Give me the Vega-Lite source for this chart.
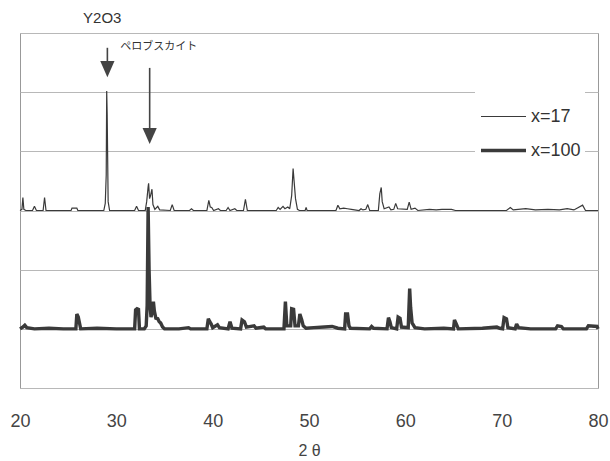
{
  "$schema": "https://vega.github.io/schema/vega-lite/v6.json",
  "autosize": "none",
  "width": 578,
  "height": 355,
  "padding": {"left": 20, "top": 33, "right": 12, "bottom": 73},
  "background": "white",
  "config": {
    "view": {"stroke": "#999", "strokeWidth": 1},
    "font": "Liberation Sans"
  },
  "datasets": {
    "xrd": [
      {"s": "x=17", "t": 20.0, "i": 3.00}, {"s": "x=17", "t": 20.2, "i": 3.02}, {"s": "x=17", "t": 20.3, "i": 3.22}, {"s": "x=17", "t": 20.4, "i": 3.02},
      {"s": "x=17", "t": 20.6, "i": 3.00}, {"s": "x=17", "t": 21.3, "i": 3.00}, {"s": "x=17", "t": 21.5, "i": 3.07}, {"s": "x=17", "t": 21.7, "i": 3.00},
      {"s": "x=17", "t": 22.4, "i": 3.00}, {"s": "x=17", "t": 22.55, "i": 3.22}, {"s": "x=17", "t": 22.7, "i": 3.00}, {"s": "x=17", "t": 25.3, "i": 3.00},
      {"s": "x=17", "t": 25.4, "i": 3.04}, {"s": "x=17", "t": 25.9, "i": 3.04}, {"s": "x=17", "t": 26.0, "i": 3.00}, {"s": "x=17", "t": 28.7, "i": 3.00},
      {"s": "x=17", "t": 28.85, "i": 3.12}, {"s": "x=17", "t": 28.95, "i": 3.60}, {"s": "x=17", "t": 29.0, "i": 5.02}, {"s": "x=17", "t": 29.05, "i": 4.62},
      {"s": "x=17", "t": 29.15, "i": 3.15}, {"s": "x=17", "t": 29.3, "i": 3.00}, {"s": "x=17", "t": 31.9, "i": 3.00}, {"s": "x=17", "t": 32.1, "i": 3.07},
      {"s": "x=17", "t": 32.3, "i": 3.00}, {"s": "x=17", "t": 33.0, "i": 3.00}, {"s": "x=17", "t": 33.15, "i": 3.15}, {"s": "x=17", "t": 33.3, "i": 3.40},
      {"s": "x=17", "t": 33.35, "i": 3.46}, {"s": "x=17", "t": 33.45, "i": 3.20}, {"s": "x=17", "t": 33.55, "i": 3.25}, {"s": "x=17", "t": 33.7, "i": 3.36},
      {"s": "x=17", "t": 33.8, "i": 3.10}, {"s": "x=17", "t": 34.0, "i": 3.02}, {"s": "x=17", "t": 34.3, "i": 3.07}, {"s": "x=17", "t": 34.5, "i": 3.01},
      {"s": "x=17", "t": 35.6, "i": 3.00}, {"s": "x=17", "t": 35.8, "i": 3.10}, {"s": "x=17", "t": 36.0, "i": 3.00}, {"s": "x=17", "t": 37.6, "i": 3.00},
      {"s": "x=17", "t": 37.8, "i": 3.03}, {"s": "x=17", "t": 38.0, "i": 3.00}, {"s": "x=17", "t": 39.4, "i": 3.00}, {"s": "x=17", "t": 39.6, "i": 3.17},
      {"s": "x=17", "t": 39.75, "i": 3.06}, {"s": "x=17", "t": 39.9, "i": 3.05}, {"s": "x=17", "t": 40.1, "i": 3.00}, {"s": "x=17", "t": 40.6, "i": 3.03},
      {"s": "x=17", "t": 40.8, "i": 3.00}, {"s": "x=17", "t": 41.4, "i": 3.00}, {"s": "x=17", "t": 41.6, "i": 3.05}, {"s": "x=17", "t": 41.8, "i": 3.00},
      {"s": "x=17", "t": 42.3, "i": 3.03}, {"s": "x=17", "t": 42.5, "i": 3.00}, {"s": "x=17", "t": 43.2, "i": 3.00}, {"s": "x=17", "t": 43.4, "i": 3.19},
      {"s": "x=17", "t": 43.6, "i": 3.00}, {"s": "x=17", "t": 46.6, "i": 3.00}, {"s": "x=17", "t": 46.8, "i": 3.05}, {"s": "x=17", "t": 47.0, "i": 3.02},
      {"s": "x=17", "t": 47.3, "i": 3.07}, {"s": "x=17", "t": 47.5, "i": 3.03}, {"s": "x=17", "t": 47.8, "i": 3.06}, {"s": "x=17", "t": 48.0, "i": 3.03},
      {"s": "x=17", "t": 48.2, "i": 3.25}, {"s": "x=17", "t": 48.35, "i": 3.71}, {"s": "x=17", "t": 48.45, "i": 3.50}, {"s": "x=17", "t": 48.6, "i": 3.20},
      {"s": "x=17", "t": 48.8, "i": 3.02}, {"s": "x=17", "t": 49.0, "i": 3.00}, {"s": "x=17", "t": 49.6, "i": 3.00}, {"s": "x=17", "t": 49.7, "i": 3.05},
      {"s": "x=17", "t": 49.8, "i": 3.00}, {"s": "x=17", "t": 52.8, "i": 3.00}, {"s": "x=17", "t": 53.0, "i": 3.09}, {"s": "x=17", "t": 53.2, "i": 3.03},
      {"s": "x=17", "t": 53.6, "i": 3.04}, {"s": "x=17", "t": 54.0, "i": 3.03}, {"s": "x=17", "t": 54.4, "i": 3.02}, {"s": "x=17", "t": 55.2, "i": 3.00},
      {"s": "x=17", "t": 55.4, "i": 3.03}, {"s": "x=17", "t": 55.6, "i": 3.01}, {"s": "x=17", "t": 55.9, "i": 3.02}, {"s": "x=17", "t": 56.1, "i": 3.10},
      {"s": "x=17", "t": 56.3, "i": 3.00}, {"s": "x=17", "t": 57.2, "i": 3.00}, {"s": "x=17", "t": 57.35, "i": 3.28}, {"s": "x=17", "t": 57.5, "i": 3.39},
      {"s": "x=17", "t": 57.6, "i": 3.15}, {"s": "x=17", "t": 57.8, "i": 3.03}, {"s": "x=17", "t": 58.3, "i": 3.06}, {"s": "x=17", "t": 58.5, "i": 3.01},
      {"s": "x=17", "t": 58.8, "i": 3.02}, {"s": "x=17", "t": 59.0, "i": 3.12}, {"s": "x=17", "t": 59.2, "i": 3.03}, {"s": "x=17", "t": 60.2, "i": 3.02},
      {"s": "x=17", "t": 60.4, "i": 3.14}, {"s": "x=17", "t": 60.6, "i": 3.02}, {"s": "x=17", "t": 61.0, "i": 3.04}, {"s": "x=17", "t": 61.3, "i": 3.00},
      {"s": "x=17", "t": 62.5, "i": 3.02}, {"s": "x=17", "t": 63.2, "i": 3.01}, {"s": "x=17", "t": 63.8, "i": 3.02}, {"s": "x=17", "t": 64.8, "i": 3.02},
      {"s": "x=17", "t": 65.2, "i": 3.00}, {"s": "x=17", "t": 70.5, "i": 3.00}, {"s": "x=17", "t": 70.9, "i": 3.05}, {"s": "x=17", "t": 71.2, "i": 3.01},
      {"s": "x=17", "t": 72.5, "i": 3.03}, {"s": "x=17", "t": 73.5, "i": 3.01}, {"s": "x=17", "t": 74.8, "i": 3.02}, {"s": "x=17", "t": 76.0, "i": 3.01},
      {"s": "x=17", "t": 76.8, "i": 3.03}, {"s": "x=17", "t": 77.5, "i": 3.01}, {"s": "x=17", "t": 78.4, "i": 3.09}, {"s": "x=17", "t": 78.7, "i": 3.00},
      {"s": "x=17", "t": 80.0, "i": 3.00},

      {"s": "x=100", "t": 20.0, "i": 1.00}, {"s": "x=100", "t": 20.3, "i": 1.03}, {"s": "x=100", "t": 20.5, "i": 1.06}, {"s": "x=100", "t": 20.7, "i": 1.02},
      {"s": "x=100", "t": 21.5, "i": 1.00}, {"s": "x=100", "t": 23.0, "i": 1.01}, {"s": "x=100", "t": 24.5, "i": 1.00}, {"s": "x=100", "t": 25.8, "i": 1.00},
      {"s": "x=100", "t": 25.9, "i": 1.25}, {"s": "x=100", "t": 26.05, "i": 1.20}, {"s": "x=100", "t": 26.15, "i": 1.12}, {"s": "x=100", "t": 26.3, "i": 1.00},
      {"s": "x=100", "t": 28.0, "i": 1.01}, {"s": "x=100", "t": 30.0, "i": 1.00}, {"s": "x=100", "t": 31.9, "i": 1.00}, {"s": "x=100", "t": 32.0, "i": 1.32},
      {"s": "x=100", "t": 32.15, "i": 1.34}, {"s": "x=100", "t": 32.3, "i": 1.33}, {"s": "x=100", "t": 32.4, "i": 1.00}, {"s": "x=100", "t": 32.9, "i": 1.00},
      {"s": "x=100", "t": 33.1, "i": 1.05}, {"s": "x=100", "t": 33.2, "i": 1.40}, {"s": "x=100", "t": 33.3, "i": 3.06}, {"s": "x=100", "t": 33.4, "i": 2.00},
      {"s": "x=100", "t": 33.5, "i": 1.40}, {"s": "x=100", "t": 33.6, "i": 1.20}, {"s": "x=100", "t": 33.75, "i": 1.30}, {"s": "x=100", "t": 33.85, "i": 1.46},
      {"s": "x=100", "t": 33.95, "i": 1.30}, {"s": "x=100", "t": 34.1, "i": 1.18}, {"s": "x=100", "t": 34.3, "i": 1.17}, {"s": "x=100", "t": 34.45, "i": 1.12},
      {"s": "x=100", "t": 34.6, "i": 1.10}, {"s": "x=100", "t": 34.8, "i": 1.03}, {"s": "x=100", "t": 35.0, "i": 1.00}, {"s": "x=100", "t": 36.5, "i": 1.00},
      {"s": "x=100", "t": 37.5, "i": 1.02}, {"s": "x=100", "t": 37.7, "i": 1.00}, {"s": "x=100", "t": 39.4, "i": 1.00}, {"s": "x=100", "t": 39.55, "i": 1.17},
      {"s": "x=100", "t": 39.7, "i": 1.12}, {"s": "x=100", "t": 39.85, "i": 1.08}, {"s": "x=100", "t": 40.0, "i": 1.02}, {"s": "x=100", "t": 40.5, "i": 1.07},
      {"s": "x=100", "t": 40.7, "i": 1.02}, {"s": "x=100", "t": 41.6, "i": 1.00}, {"s": "x=100", "t": 41.8, "i": 1.12}, {"s": "x=100", "t": 42.0, "i": 1.01},
      {"s": "x=100", "t": 42.9, "i": 1.00}, {"s": "x=100", "t": 43.05, "i": 1.15}, {"s": "x=100", "t": 43.3, "i": 1.12}, {"s": "x=100", "t": 43.5, "i": 1.03},
      {"s": "x=100", "t": 44.3, "i": 1.05}, {"s": "x=100", "t": 44.5, "i": 1.01}, {"s": "x=100", "t": 45.3, "i": 1.03}, {"s": "x=100", "t": 45.5, "i": 1.00},
      {"s": "x=100", "t": 47.4, "i": 1.00}, {"s": "x=100", "t": 47.55, "i": 1.46}, {"s": "x=100", "t": 47.7, "i": 1.05}, {"s": "x=100", "t": 48.1, "i": 1.05},
      {"s": "x=100", "t": 48.2, "i": 1.34}, {"s": "x=100", "t": 48.4, "i": 1.33}, {"s": "x=100", "t": 48.55, "i": 1.05}, {"s": "x=100", "t": 48.9, "i": 1.05},
      {"s": "x=100", "t": 49.05, "i": 1.25}, {"s": "x=100", "t": 49.25, "i": 1.15}, {"s": "x=100", "t": 49.4, "i": 1.05}, {"s": "x=100", "t": 49.7, "i": 1.01},
      {"s": "x=100", "t": 50.5, "i": 1.02}, {"s": "x=100", "t": 51.6, "i": 1.03}, {"s": "x=100", "t": 52.4, "i": 1.04}, {"s": "x=100", "t": 53.0, "i": 1.01},
      {"s": "x=100", "t": 53.7, "i": 1.00}, {"s": "x=100", "t": 53.8, "i": 1.25}, {"s": "x=100", "t": 54.0, "i": 1.25}, {"s": "x=100", "t": 54.15, "i": 1.05},
      {"s": "x=100", "t": 54.3, "i": 1.01}, {"s": "x=100", "t": 56.3, "i": 1.00}, {"s": "x=100", "t": 56.5, "i": 1.04}, {"s": "x=100", "t": 56.7, "i": 1.01},
      {"s": "x=100", "t": 58.1, "i": 1.00}, {"s": "x=100", "t": 58.25, "i": 1.19}, {"s": "x=100", "t": 58.4, "i": 1.12}, {"s": "x=100", "t": 58.55, "i": 1.02},
      {"s": "x=100", "t": 59.1, "i": 1.00}, {"s": "x=100", "t": 59.25, "i": 1.20}, {"s": "x=100", "t": 59.45, "i": 1.18}, {"s": "x=100", "t": 59.6, "i": 1.03},
      {"s": "x=100", "t": 60.3, "i": 1.02}, {"s": "x=100", "t": 60.45, "i": 1.68}, {"s": "x=100", "t": 60.55, "i": 1.36}, {"s": "x=100", "t": 60.7, "i": 1.10},
      {"s": "x=100", "t": 61.0, "i": 1.02}, {"s": "x=100", "t": 62.0, "i": 1.00}, {"s": "x=100", "t": 64.0, "i": 1.01}, {"s": "x=100", "t": 65.0, "i": 1.00},
      {"s": "x=100", "t": 65.1, "i": 1.15}, {"s": "x=100", "t": 65.3, "i": 1.08}, {"s": "x=100", "t": 65.5, "i": 1.00}, {"s": "x=100", "t": 68.0, "i": 1.01},
      {"s": "x=100", "t": 69.5, "i": 1.03}, {"s": "x=100", "t": 69.8, "i": 1.01}, {"s": "x=100", "t": 70.1, "i": 1.00}, {"s": "x=100", "t": 70.25, "i": 1.19},
      {"s": "x=100", "t": 70.5, "i": 1.17}, {"s": "x=100", "t": 70.65, "i": 1.02}, {"s": "x=100", "t": 71.4, "i": 1.00}, {"s": "x=100", "t": 71.55, "i": 1.08},
      {"s": "x=100", "t": 71.75, "i": 1.02}, {"s": "x=100", "t": 73.0, "i": 1.00}, {"s": "x=100", "t": 75.6, "i": 1.00}, {"s": "x=100", "t": 75.8, "i": 1.05},
      {"s": "x=100", "t": 76.2, "i": 1.04}, {"s": "x=100", "t": 76.4, "i": 1.00}, {"s": "x=100", "t": 78.8, "i": 1.00}, {"s": "x=100", "t": 79.0, "i": 1.05},
      {"s": "x=100", "t": 79.9, "i": 1.04}, {"s": "x=100", "t": 80.0, "i": 1.00}
    ],
    "labels": [
      {"t": 26.55, "i": 6.25, "label": "Y2O3", "kind": "phase"},
      {"t": 30.4, "i": 5.77, "label": "ペロブスカイト", "kind": "sub"}
    ],
    "arrows": [
      {"t": 29.07, "top": 5.75, "bottom": 5.45, "head": 5.39},
      {"t": 33.46, "top": 5.41, "bottom": 4.35, "head": 4.26}
    ]
  },
  "layer": [
    {
      "data": {"name": "xrd"},
      "mark": {"type": "line", "color": "#3a3a3a", "strokeJoin": "miter", "strokeMiterLimit": 2},
      "encoding": {
        "x": {
          "field": "t", "type": "quantitative",
          "scale": {"domain": [20, 80], "nice": false, "zero": false},
          "axis": {
            "title": "2 θ", "values": [20, 30, 40, 50, 60, 70, 80],
            "grid": false, "domain": false, "ticks": false, "tickSize": 0, "labelFlush": false,
            "labelFontSize": 18, "labelColor": "#444", "labelPadding": 24, "labelFont": "Liberation Sans",
            "titleFontSize": 16, "titleColor": "#444", "titleFontWeight": "normal", "titlePadding": 12, "titleFont": "Liberation Sans"
          }
        },
        "y": {
          "field": "i", "type": "quantitative",
          "scale": {"domain": [0, 6], "nice": false},
          "axis": {
            "title": null, "values": [0, 1, 2, 3, 4, 5, 6],
            "grid": true, "gridColor": "#b8b8b8", "gridWidth": 1,
            "domain": false, "ticks": false, "labels": false
          }
        },
        "detail": {"field": "s"},
        "strokeWidth": {
          "field": "s", "type": "ordinal",
          "scale": {"domain": ["x=17", "x=100"], "range": [1.2, 3.4]},
          "legend": {
            "title": null, "orient": "none", "legendX": 455, "legendY": 56,
            "symbolType": "stroke", "symbolSize": 2025, "symbolStrokeColor": "#3a3a3a",
            "labelFontSize": 18, "labelColor": "#333", "labelFont": "Liberation Sans", "labelOffset": 3,
            "rowPadding": -5, "fillColor": "white", "padding": 4
          }
        }
      }
    },
    {
      "data": {"name": "arrows"},
      "mark": {"type": "rule", "color": "#444", "strokeWidth": 1.6},
      "encoding": {
        "x": {"field": "t", "type": "quantitative"},
        "y": {"field": "top", "type": "quantitative"},
        "y2": {"field": "bottom"}
      }
    },
    {
      "data": {"name": "arrows"},
      "mark": {"type": "point", "shape": "M-0.88,-1L0.88,-1L0,1Z", "filled": true, "color": "#444", "opacity": 1, "size": 260},
      "encoding": {
        "x": {"field": "t", "type": "quantitative"},
        "y": {"field": "head", "type": "quantitative"}
      }
    },
    {
      "data": {"name": "labels"},
      "transform": [{"filter": "datum.kind === 'phase'"}],
      "mark": {"type": "text", "align": "left", "baseline": "middle", "fontSize": 15, "font": "Liberation Sans", "color": "#333"},
      "encoding": {
        "x": {"field": "t", "type": "quantitative"},
        "y": {"field": "i", "type": "quantitative"},
        "text": {"field": "label"}
      }
    },
    {
      "data": {"name": "labels"},
      "transform": [{"filter": "datum.kind === 'sub'"}],
      "mark": {"type": "text", "align": "left", "baseline": "middle", "fontSize": 11, "font": "Noto Sans CJK JP", "color": "#333"},
      "encoding": {
        "x": {"field": "t", "type": "quantitative"},
        "y": {"field": "i", "type": "quantitative"},
        "text": {"field": "label"}
      }
    }
  ]
}
